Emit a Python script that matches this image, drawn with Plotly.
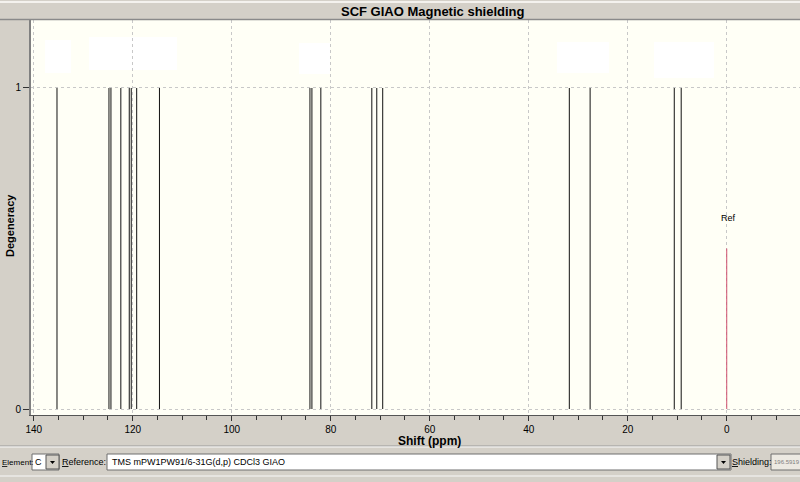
import plotly.graph_objects as go

# peak positions (ppm) and their degeneracy
shifts = [135.3, 124.8, 124.4, 122.4, 120.7, 120.3, 119.2, 114.6,
          84.2, 83.8, 82.0, 71.7, 70.7, 69.5, 31.8, 27.6, 10.6, 9.2]
degen = [1] * len(shifts)
ref_shift = 0
ref_height = 0.5
x_ticks = [140, 120, 100, 80, 60, 40, 20, 0]

W, H = 800, 482
L, R, T, B = 31, 800, 20, 415   # plot area in pixels

def px(x):
    return (x - L) / (R - L)

def py(y):
    return (B - y) / (B - T)

xs, ys = [], []
for s, d in zip(shifts, degen):
    xs += [s, s, None]
    ys += [0, d, None]

fig = go.Figure()
fig.add_trace(go.Scatter(x=xs, y=ys, mode='lines', line=dict(color='#111111', width=1),
                         hoverinfo='skip', showlegend=False))
fig.add_trace(go.Scatter(x=[ref_shift, ref_shift], y=[0, ref_height], mode='lines',
                         line=dict(color='#d0506e', width=1), showlegend=False))

GUI = 'Liberation Sans, Arial, sans-serif'
shapes = []
# title bar borders
shapes.append(dict(type='line', xref='paper', yref='paper', x0=px(0), x1=px(800),
                   y0=py(2), y1=py(2), line=dict(color='#f4f2ee', width=2)))
shapes.append(dict(type='line', xref='paper', yref='paper', x0=px(0), x1=px(800),
                   y0=py(19.5), y1=py(19.5), line=dict(color='#8a8a8a', width=1.5)))
# white label boxes inside the plot
for x0, y0, x1, y1 in [(45, 40, 71, 73), (89, 37, 177, 70), (299, 43, 330, 74),
                       (557, 42, 609, 73), (654, 42, 714, 78)]:
    shapes.append(dict(type='rect', xref='paper', yref='paper', x0=px(x0), x1=px(x1),
                       y0=py(y1), y1=py(y0), fillcolor='white', line=dict(width=0), layer='below'))
# bottom control bar
shapes.append(dict(type='line', xref='paper', yref='paper', x0=px(0), x1=px(800),
                   y0=py(446), y1=py(446), line=dict(color='#9a9a9a', width=1)))
shapes.append(dict(type='line', xref='paper', yref='paper', x0=px(0), x1=px(800),
                   y0=py(447), y1=py(447), line=dict(color='#f8f8f8', width=1)))
shapes.append(dict(type='line', xref='paper', yref='paper', x0=px(0), x1=px(800),
                   y0=py(476), y1=py(476), line=dict(color='#f8f8f8', width=1)))
for x0, x1, fill in [(32, 59, 'white'), (107, 731, 'white'), (771, 802, '#ece9e2')]:
    shapes.append(dict(type='rect', xref='paper', yref='paper', x0=px(x0), x1=px(x1),
                       y0=py(470), y1=py(454), fillcolor=fill,
                       line=dict(color='#6f6f6f', width=1)))
for x0 in [46, 717]:
    shapes.append(dict(type='rect', xref='paper', yref='paper', x0=px(x0), x1=px(x0 + 13),
                       y0=py(469), y1=py(455), fillcolor='#d4d0c8',
                       line=dict(color='#555555', width=1)))
    shapes.append(dict(type='path', xref='paper', yref='paper',
                       path=f'M {px(x0+4)} {py(461)} L {px(x0+9)} {py(461)} L {px(x0+6.5)} {py(464)} Z',
                       fillcolor='black', line=dict(width=0)))

ann = [
    dict(text='<b>SCF GIAO Magnetic shielding</b>', x=px(433), y=py(11), font=dict(size=13, family=GUI, color='black')),
    dict(text='<b>Shift (ppm)</b>', x=px(429), y=py(441), font=dict(size=12, family=GUI, color='black')),
    dict(text='<b>Degeneracy</b>', x=px(10), y=py(226), textangle=-90, font=dict(size=11, family=GUI, color='black')),
    dict(text='Ref', x=px(728), y=py(218), font=dict(size=9, family=GUI, color='black')),
    dict(text='<u>E</u>lement:', x=px(0), y=py(462), xanchor='left', font=dict(size=8, family=GUI, color='black')),
    dict(text='C', x=px(38), y=py(462), font=dict(size=9, family=GUI, color='black')),
    dict(text='<u>R</u>eference:', x=px(84), y=py(462), font=dict(size=9, family=GUI, color='black')),
    dict(text='TMS mPW1PW91/6-31G(d,p) CDCl3 GIAO', x=px(110), y=py(462), xanchor='left',
         font=dict(size=9, family=GUI, color='black')),
    dict(text='<u>S</u>hielding:', x=px(752), y=py(462), font=dict(size=9, family=GUI, color='black')),
    dict(text='196.5919', x=px(772), y=py(462), xanchor='left', font=dict(size=6, family=GUI, color='#808080')),
]
annotations = []
for a in ann:
    d = dict(xref='paper', yref='paper', showarrow=False, xanchor='center', yanchor='middle')
    d.update(a)
    annotations.append(d)

fig.update_layout(
    width=W, height=H,
    margin=dict(l=L, r=W - R, t=T, b=H - B, pad=0),
    paper_bgcolor='#d4d0c8', plot_bgcolor='#fffff6',
    font=dict(family=GUI, size=10, color='black'),
    shapes=shapes, annotations=annotations, showlegend=False,
    xaxis=dict(range=[140.55, -14.8], tickvals=x_ticks, ticks='outside', ticklen=5,
               tickcolor='#333333', showline=True, linecolor='#555555', linewidth=1,
               showgrid=True, gridcolor='#c8c8c8', griddash='dot', gridwidth=1,
               zeroline=False, tickfont=dict(size=10, family=GUI),
               minor=dict(dtick=5, ticks='outside', ticklen=4, tickcolor='#333333', showgrid=False)),
    yaxis=dict(range=[-0.0187, 1.2118], tickvals=[0, 1], ticks='outside', ticklen=6,
               tickcolor='#333333', showline=True, linecolor='#808080', linewidth=2,
               showgrid=True, gridcolor='#c8c8c8', griddash='dot', gridwidth=1,
               zeroline=False, tickfont=dict(size=10, family=GUI)),
)

fig.write_html('out.html', config={'displayModeBar': False},
               post_script="document.body.style.margin='0';document.body.style.overflow='hidden';")
